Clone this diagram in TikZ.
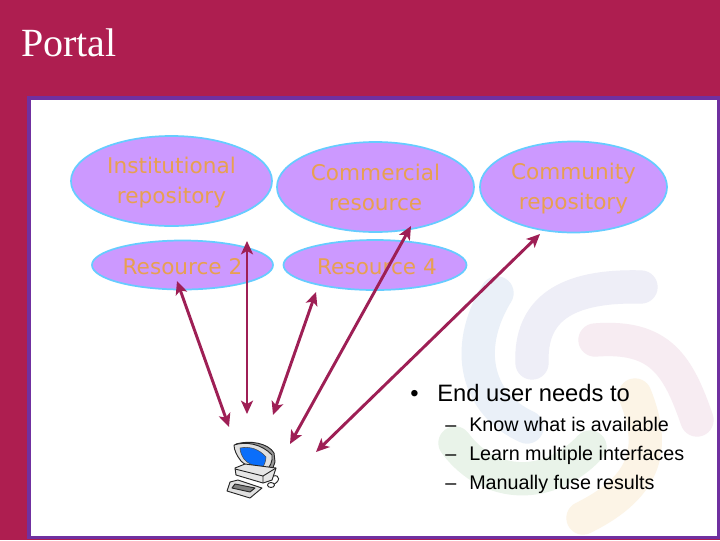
\documentclass[tikz,border=0pt]{standalone}
\usepackage{fontspec}
\setmainfont{Liberation Serif}
\setsansfont{Liberation Sans}
\newfontfamily\ovalfont{DejaVu Sans}
\usetikzlibrary{arrows.meta,shapes.geometric}
\definecolor{slidebg}{HTML}{AE1E50}
\definecolor{frameviolet}{HTML}{7030A0}
\definecolor{ovalfill}{HTML}{CC99FF}
\definecolor{ovaledge}{HTML}{66CCFF}
\definecolor{ovaltext}{HTML}{E8A050}
\definecolor{arrowred}{HTML}{9E1F55}
\definecolor{swblue}{HTML}{EAF0F8}
\definecolor{swlav}{HTML}{EEEEF7}
\definecolor{swpink}{HTML}{F7ECF2}
\definecolor{sworange}{HTML}{FCF4E6}
\definecolor{swgreen}{HTML}{E9F3E9}
\tikzset{
  oval/.style={ellipse,draw=ovaledge,fill=ovalfill,line width=1.3pt,inner sep=0pt},
  ovallabel/.style={inner sep=0pt,align=center,text=ovaltext,font=\ovalfont\fontsize{16.2}{22.5}\selectfont},
  link/.style={draw=arrowred,line width=2.2pt,{Stealth[length=10pt,width=9pt,inset=2.5pt]}-{Stealth[length=10pt,width=9pt,inset=2.5pt]}},
  swoosh/.style={line width=25pt,line cap=round},
  bodytext/.style={anchor=base west,inner sep=0pt,font=\sffamily\fontsize{17.8}{21}\selectfont},
  subtext/.style={anchor=base west,inner sep=0pt,font=\sffamily\fontsize{14.8}{18}\selectfont},
  pc/.style={draw=black!85,line width=0.7pt,line join=round}
}
\begin{document}
\begin{tikzpicture}[x=0.75pt,y=-0.75pt]
\useasboundingbox (0,0) rectangle (720,540);
\fill[slidebg] (0,0) rectangle (720,540);
\draw[frameviolet,fill=white,line width=2.6pt] (29,98) rectangle (718.5,537.5);
\draw[swoosh,draw=swblue] (497,293) .. controls (462,350) and (478,405) .. (527,427);
\draw[swoosh,draw=swlav] (532,363) .. controls (530,310) and (565,285) .. (641,287);
\draw[swoosh,draw=swpink] (595,340) .. controls (660,335) and (678,365) .. (697,420);
\draw[swoosh,draw=sworange] (635,395) .. controls (655,445) and (650,485) .. (583,518);
\draw[swoosh,draw=swgreen] (455,443) .. controls (490,490) and (550,490) .. (590,447);
\node[oval,minimum width=201pt*0.75,minimum height=90pt*0.75,label={[ovallabel,yshift=-1.5pt]center:Institutional\\repository}] (inst) at (171.5,181) {};
\node[oval,minimum width=197pt*0.75,minimum height=90pt*0.75,label={[ovallabel]center:Commercial\\resource}] (comm) at (375.5,187) {};
\node[oval,minimum width=187pt*0.75,minimum height=91pt*0.75,label={[ovallabel,yshift=-1.5pt]center:Community\\repository}] (commu) at (573.5,187) {};
\node[oval,minimum width=181pt*0.75,minimum height=49pt*0.75,label={[ovallabel,yshift=-1.5pt]center:Resource 2}] (res2) at (182.5,265) {};
\node[oval,minimum width=183pt*0.75,minimum height=50pt*0.75,label={[ovallabel,xshift=1.5pt,yshift=-1.5pt]center:Resource 4}] (res4) at (375,265) {};
\node[anchor=base west,inner sep=0pt,text=white,font=\fontsize{30}{36}\selectfont] (title) at (21,56) {Portal};
\coordinate (a1) at (177,281); \coordinate (b1) at (229,427);
\coordinate (a2) at (247,241); \coordinate (b2) at (247,414);
\coordinate (a3) at (316,292); \coordinate (b3) at (273,415);
\coordinate (a4) at (411,226); \coordinate (b4) at (290,444);
\coordinate (a5) at (540,234); \coordinate (b5) at (316,452);
\draw[link] (a1) -- (b1);
\draw[link] (a2) -- (b2);
\draw[link] (a3) -- (b3);
\draw[link] (a4) -- (b4);
\draw[link] (a5) -- (b5);
% computer
\draw[pc,fill=black!40] (236,444) .. controls (250,440) and (268,443) .. (274,453) -- (275,462) -- (271,473) -- (262,471) -- cycle;
\draw[pc,fill=black!12] (234,445) .. controls (246,441) and (262,444) .. (272,455) .. controls (273,461) and (270,468) .. (265,471) .. controls (255,470) and (246,466) .. (241,461) .. controls (237,456) and (234,450) .. (234,445) -- cycle;
\draw[draw=black!70,fill={rgb,255:red,10;green,110;blue,250},line width=0.4pt] (240,448) .. controls (250,446) and (259,449) .. (266,457) .. controls (266,461) and (264,466) .. (262,468) .. controls (253,466) and (247,463) .. (244,459) .. controls (242,456) and (240,452) .. (240,448) -- cycle;
\draw[pc,fill=black!10] (235,468) -- (245,464) -- (276,468) -- (272,480) -- (263,483) -- (236,475) -- cycle;
\draw[pc] (235,469) -- (263,476) -- (276,468) (263,476) -- (263,483);
\draw[pc,fill=black!12] (230,482) -- (238,480) -- (262,488) -- (250,498) -- (227,491) -- cycle;
\draw[pc,fill=black!50] (235,484) -- (255,488) -- (250,492) -- (232,488) -- cycle;
\draw[pc] (270,486) .. controls (282,482) and (280,474) .. (273,476);
\draw[pc,fill=white] (271,485) ellipse (3.5 and 2.5);
% text
\node[bodytext] (bul) at (410,401) {•};
\node[bodytext] (t0) at (437,401) {End user needs to};
\node[subtext] (d1) at (445,431) {–};
\node[subtext] (t1) at (469,431) {Know what is available};
\node[subtext] (d2) at (445,460) {–};
\node[subtext] (t2) at (469,460) {Learn multiple interfaces};
\node[subtext] (d3) at (445,489) {–};
\node[subtext] (t3) at (469,489) {Manually fuse results};
\end{tikzpicture}
\end{document}
